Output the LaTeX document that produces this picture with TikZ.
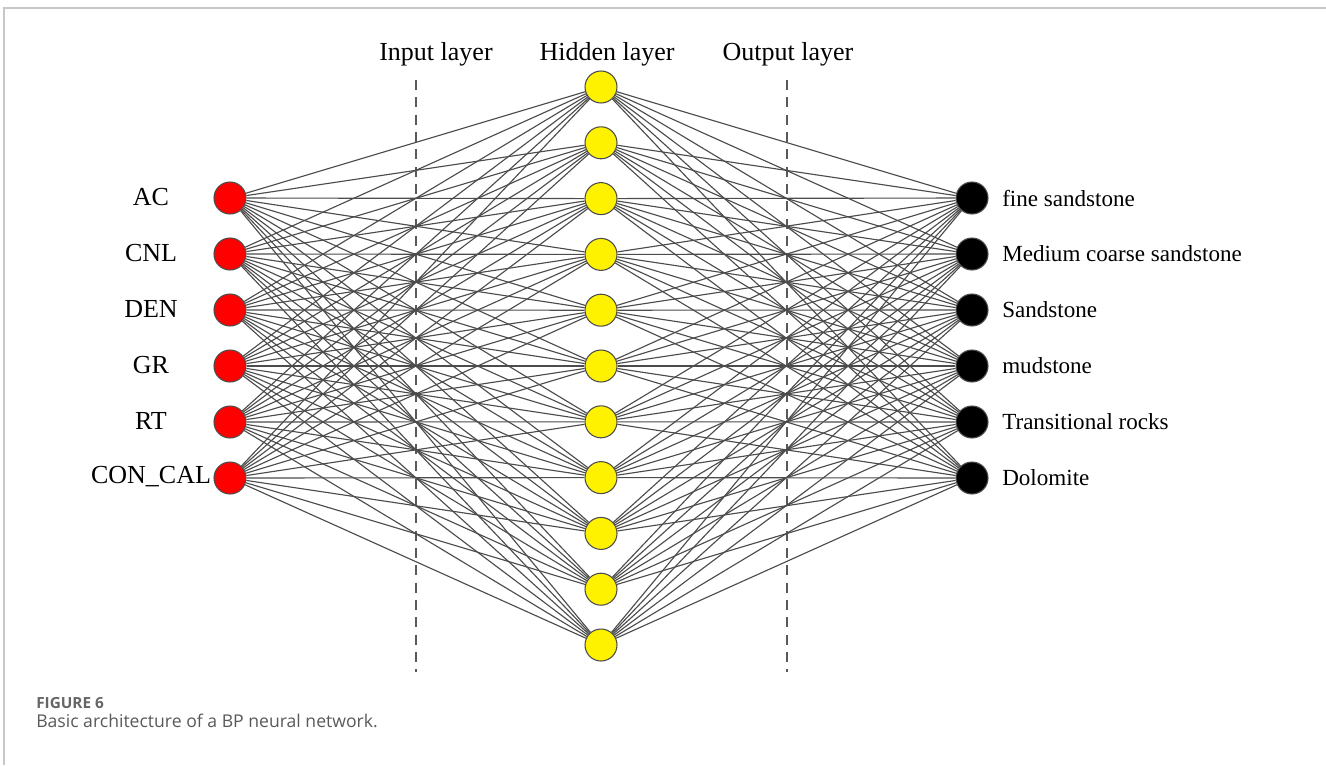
\documentclass[tikz,border=0pt]{standalone}
\usepackage{fontspec}
\setmainfont{Liberation Serif}
\newfontfamily\capfont{Open Sans}
\begin{document}
\begin{tikzpicture}[x=0.75pt,y=-0.75pt,
  neuron/.style={circle,draw=black!70,line width=0.8pt,minimum size=24pt,inner sep=0pt},
  innode/.style={neuron,fill=red},
  hidnode/.style={neuron,fill=yellow},
  outnode/.style={neuron,fill=black},
  conn/.style={draw=black!70,line width=0.85pt},
  layerline/.style={draw=black!65,line width=1.4pt,dash pattern=on 7.5pt off 5.5pt},
  lbl/.style={font=\fontsize{19.5}{22}\selectfont,inner sep=0pt},
  rlbl/.style={font=\fontsize{17.3}{20}\selectfont,inner sep=0pt,anchor=west},
  frameline/.style={draw=black!22,line width=1.2pt}
]
\useasboundingbox (0,0) rectangle (1326,765);
\coordinate (fa) at (4,765);
\coordinate (fb) at (4,8);
\coordinate (fc) at (1326,8);
\draw[frameline] (fa) -- (fb) -- (fc);

% layer separators
\coordinate (d1t) at (416,80);
\coordinate (d1b) at (416,672);
\coordinate (d2t) at (787,80);
\coordinate (d2b) at (787,672);
\draw[layerline] (d1t) -- (d1b);
\draw[layerline] (d2t) -- (d2b);

% layer titles
\node[lbl] (tin) at (436,54) {Input layer};
\node[lbl] (thid) at (607,54) {Hidden layer};
\node[lbl] (tout) at (788,54) {Output layer};

% nodes
\foreach \i/\t in {1/AC,2/CNL,3/DEN,4/GR,5/RT,6/CON\_CAL}{
  \node[innode] (i\i) at (230,{198+56*(\i-1)}) {};
  \node[lbl] (li\i) at (151,{197+56*(\i-1)}) {\t};
}
\foreach \j in {1,...,11}{
  \node[hidnode] (h\j) at (601,{87+55.8*(\j-1)}) {};
}
\foreach \k/\t in {1/fine sandstone,2/Medium coarse sandstone,3/Sandstone,4/mudstone,5/Transitional rocks,6/Dolomite}{
  \node[outnode] (o\k) at (972,{198+56*(\k-1)}) {};
  \node[rlbl] (lo\k) at (1002,{198+56*(\k-1)}) {\t};
}

% connections
\foreach \i in {1,...,6}{
  \foreach \j in {1,...,11}{
    \draw[conn] (i\i) -- (h\j);
  }
}
\foreach \j in {1,...,11}{
  \foreach \k in {1,...,6}{
    \draw[conn] (h\j) -- (o\k);
  }
}

% caption
\node[anchor=west,inner sep=0pt,text=black!60,font=\capfont\fontsize{11.5}{13}\selectfont\bfseries] (cap1) at (36,703) {FIGURE 6};
\node[anchor=west,inner sep=0pt,text=black!65,font=\capfont\fontsize{13.2}{15}\selectfont] (cap2) at (36,721) {Basic architecture of a BP neural network.};
\end{tikzpicture}
\end{document}
